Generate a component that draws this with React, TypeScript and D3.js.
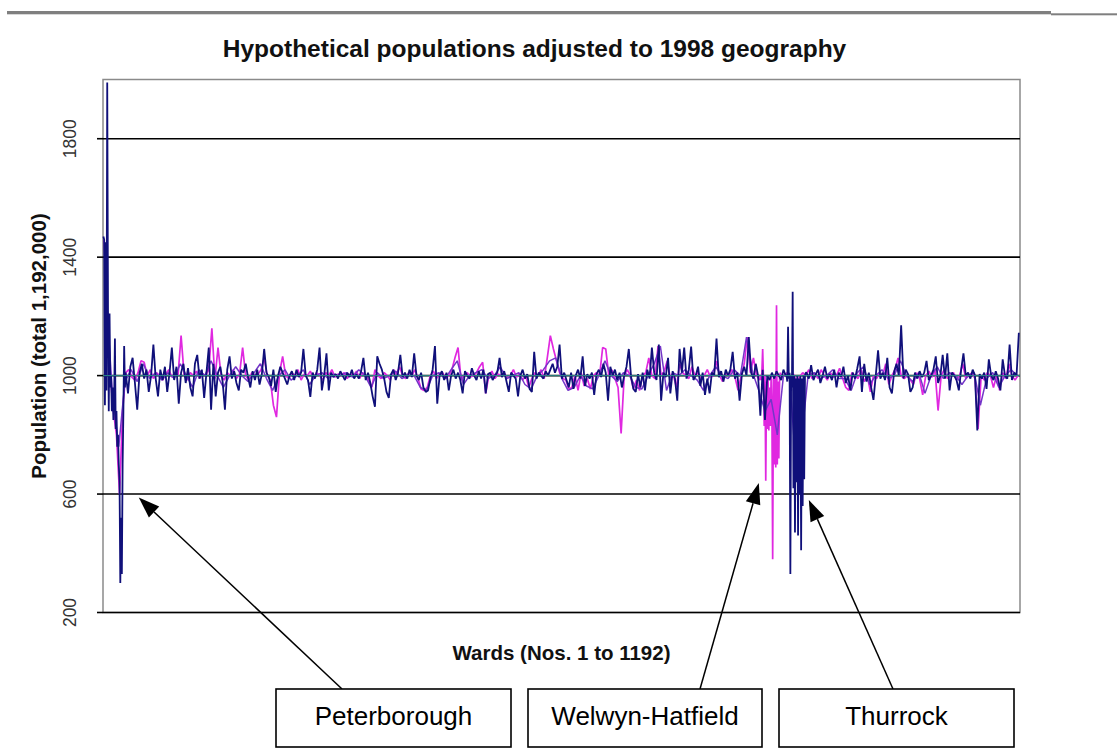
import React from 'react';
import * as d3 from 'd3';

// ---------------- DATA ----------------
const totalWards = 1192;
const yTicks = [200, 600, 1000, 1400, 1800];
const gridValues = [600, 1000, 1400, 1800];
const targetPop = 1000;

const titleText = 'Hypothetical populations adjusted to 1998 geography';
const yTitle = 'Population (total 1,192,000)';
const xTitle = 'Wards (Nos. 1 to 1192)';

// navy series: wards 1..30 (every ward)
const navyPeterborough = [1470, 1460, 900, 1450, 950, 1990, 1220, 880, 1210, 960, 1000, 880, 960, 850, 920, 1125, 820, 880, 760, 800, 700, 640, 300, 520, 330, 700, 880, 1100, 960, 1010];
// navy series: wards 33..888, every 3rd ward
const navyWest = [
  940, 1030, 1060, 975, 885, 1010, 1040, 990, 1020, 945,
  1000, 1105, 990, 930, 1020, 985, 1030, 945, 1010, 1095,
  985, 1030, 905, 1010, 1040, 975, 1025, 960, 930, 1040,
  1070, 990, 1020, 925, 1010, 1095, 885, 1040, 930, 1010,
  1030, 980, 885, 1020, 1065, 990, 1015, 975, 950, 1020,
  1010, 1040, 995, 960, 1015, 985, 1020, 970, 1005, 1090,
  1010, 995, 965, 1020, 945, 1000, 1030, 1010, 990, 970,
  1000, 1015, 985, 1020, 995, 1010, 1090, 1000, 985, 928,
  1010, 990, 1020, 1095, 950, 1000, 1075, 950, 1010, 995,
  1005, 990, 1015, 1000, 985, 1010, 995, 1020, 990, 1005,
  990, 1015, 1060, 985, 1010, 975, 930, 895, 1065, 1040,
  1020, 990, 945, 925, 1005, 1020, 985, 1010, 1070, 995,
  1010, 990, 1020, 995, 1075, 1000, 985, 1010, 960, 945,
  950, 990, 1020, 1100, 905, 1000, 1015, 985, 1010, 950,
  1000, 1020, 990, 1010, 985, 940, 1015, 1000, 990, 1025,
  1000, 985, 1015, 990, 1020, 940, 1005, 1010, 985, 1000,
  1010, 1060, 995, 1015, 980, 945, 1010, 1000, 990, 930,
  1000, 1020, 990, 1005, 955, 945, 1080, 990, 1010, 1000,
  990, 1015, 1000, 1020, 1040, 1010, 1030, 1105, 990, 1010,
  985, 960, 1010, 955, 1000, 1020, 990, 1065, 965, 1005,
  990, 1010, 935, 1005, 1020, 995, 1040, 1010, 915, 1030,
  1000, 1020, 985, 1010, 960, 1000, 1030, 1090, 995, 955,
  945, 1005, 960, 1010, 950, 1020, 990, 1095, 1010, 985,
  1105, 915, 1010, 995, 1060, 940, 1015, 990, 915, 1090,
  1010, 1095, 990, 1020, 1098, 985, 1000, 1030, 965, 1010,
  935, 990, 940, 1010, 1000, 1125, 995, 1015, 980, 1020,
  1000, 1020, 1080, 990, 1010, 915, 1005, 1030, 1000, 1130,
  1010, 990, 1040, 1000, 865, 1020, 850, 1000, 985, 1010,
  990, 1015, 1000, 985, 1020, 1000,
];
// navy series: wards 889..914 (every ward)
const navyThurrock = [1000, 980, 1165, 990, 1010, 330, 1000, 960, 1283, 620, 1000, 470, 990, 640, 1000, 460, 990, 600, 1000, 410, 990, 560, 1000, 650, 1000, 1010];
// navy series: wards 915..1191, every 3rd ward
const navyEast = [
  1010, 990, 1035, 985, 1005, 1020, 975, 1000, 1030, 990,
  1005, 985, 1020, 960, 1010, 995, 1030, 975, 1000, 950,
  1010, 990, 1025, 1065, 945, 1040, 980, 1010, 960, 918,
  1000, 1085, 990, 1010, 985, 1060, 960, 940, 1015, 1040,
  1000, 1170, 990, 1020, 1005, 945, 960, 1010, 990, 1015,
  995, 1010, 1050, 985, 1000, 1020, 1065, 975, 1000, 1070,
  990, 1075, 950, 1010, 1000, 985, 950, 1020, 1075, 1000,
  1010, 990, 1020, 1000, 815, 1005, 990, 1010, 955, 1055,
  1000, 985, 1015, 990, 950, 1055, 1000, 990, 1105, 985,
  1010, 1000, 1145,
];

// magenta series: wards 2..854, every 4th ward
const magentaWest = [
  1460, 1220, 1000, 880, 800, 600, 880, 1010, 1020, 995,
  985, 1010, 1050, 1045, 1000, 1020, 990, 1010, 1000, 985,
  1005, 1020, 995, 1010, 1000, 1135, 1000, 985, 1010, 1000,
  1015, 990, 1005, 1000, 1020, 1160, 990, 1095, 1000, 985,
  1010, 1000, 1020, 990, 1005, 1095, 1000, 985, 1010, 1000,
  1005, 1020, 1060, 1000, 985, 900, 860, 1010, 1065, 1000,
  990, 1010, 1000, 1020, 985, 1005, 1000, 1015, 990, 1010,
  1000, 985, 1010, 1000, 1020, 995, 1005, 1000, 1010, 990,
  1005, 1000, 1015, 990, 1010, 1000, 985, 960, 1020, 1000,
  990, 1010, 1000, 985, 1020, 1005, 1030, 1000, 990, 1010,
  1000, 1020, 990, 955, 950, 960, 1000, 1015, 990, 1005,
  1010, 990, 1000, 1020, 1060, 1095, 985, 1000, 1010, 995,
  1000, 1010, 1030, 1045, 940, 1000, 1015, 990, 1005, 1000,
  1010, 990, 1000, 1020, 995, 1005, 985, 1000, 960, 990,
  1010, 1000, 1020, 990, 1060, 1135, 1090, 1050, 1010, 990,
  985, 955, 960, 1000, 950, 1010, 965, 990, 955, 1000,
  1010, 1000, 1095, 1090, 1000, 1020, 990, 960, 805, 1000,
  1020, 1000, 955, 985, 950, 1000, 1010, 1060, 1000, 990,
  1100, 1000, 1015, 1050, 990, 1000, 960, 1040, 1010, 1000,
  990, 1030, 1000, 1010, 985, 1000, 1020, 995, 1000, 1050,
  1000, 980, 1010, 1000, 1020, 995, 950, 1000, 1040, 1130,
  1010, 1060, 1000, 985,
];
// magenta series: wards 855..882 (every ward)
const magentaWelwyn = [1000, 985, 1010, 1090, 990, 830, 1000, 645, 980, 820, 990, 815, 960, 830, 1000, 900, 380, 990, 700, 1000, 690, 1238, 700, 980, 720, 1000, 1010, 995];
// magenta series: wards 886..1190, every 4th ward
const magentaEast = [
  1000, 1010, 990, 1005, 980, 995, 1010, 1000, 1020, 990,
  1005, 990, 1020, 1000, 985, 1010, 995, 1000, 1025, 990,
  960, 950, 1010, 1000, 990, 1020, 980, 1000, 945, 1000,
  990, 1010, 1000, 1040, 970, 1000, 1020, 1060, 1000, 990,
  1000, 985, 970, 1010, 990, 935, 1000, 1015, 995, 1020,
  882, 1000, 1020, 990, 1000, 1010, 985, 1000, 1040, 990,
  1000, 1010, 990, 820, 1000, 985, 1010, 1000, 960, 1000,
  950, 1010, 990, 1040, 1000, 985, 1000,
];

// purple series: wards 5..1189, every 8th ward
const purpleAll = [
  1250, 930, 760, 980, 1020, 980, 1040, 990, 1010, 985,
  1010, 990, 1040, 1000, 960, 1020, 1000, 1050, 1000, 960,
  1000, 1030, 1000, 980, 1010, 1040, 990, 950, 1000, 1020,
  985, 1000, 1020, 970, 1000, 1010, 990, 1005, 1000, 1010,
  995, 1020, 1000, 960, 1010, 990, 1000, 1015, 990, 1000,
  1000, 960, 950, 1000, 1010, 990, 1020, 1050, 970, 1000,
  1010, 1020, 990, 1000, 1030, 990, 1000, 1010, 970, 955,
  1000, 1020, 1050, 1060, 990, 950, 960, 1000, 965, 955,
  1000, 1050, 1000, 980, 1010, 1000, 960, 955, 1000, 1040,
  1100, 950, 1010, 1000, 1020, 1000, 985, 950, 1000, 1030,
  1000, 990, 1020, 1000, 1130, 1010, 950, 880, 920, 800,
  1000, 1000, 700, 800, 1000, 1010, 990, 1000, 1020, 990,
  990, 950, 1010, 1030, 970, 1000, 1020, 990, 1000, 1050,
  1000, 980, 1010, 940, 1000, 1030, 990, 1010, 1000, 970,
  1000, 1010, 900, 990, 1010, 960, 1000, 1020, 1000,
];

// call-outs: label, ward and population the arrow points at
const calloutLabels = ['Peterborough', 'Welwyn-Hatfield', 'Thurrock'];
const calloutWards = [47, 853, 918];
const calloutPops = [588, 637, 580];

// ---------------- HELPERS ----------------
type Pt = { ward: number; pop: number };
const run = (start: number, step: number, values: number[]): Pt[] =>
  values.map((v, i) => ({ ward: start + step * i, pop: v }));

const navySeries: Pt[] = [
  ...run(1, 1, navyPeterborough),
  ...run(33, 3, navyWest),
  ...run(889, 1, navyThurrock),
  ...run(915, 3, navyEast),
];
const magentaSeries: Pt[] = [
  ...run(2, 4, magentaWest),
  ...run(855, 1, magentaWelwyn),
  ...run(886, 4, magentaEast),
];
const purpleSeries: Pt[] = run(5, 8, purpleAll);

const FONT = '"Liberation Sans", Arial, Helvetica, sans-serif';

export default function App() {
  const plotL = 103, plotR = 1020, plotT = 79.5, plotB = 612.5;
  const x = d3.scaleLinear().domain([0.5, totalWards + 0.5]).range([plotL, plotR]);
  const y = d3.scaleLinear().domain([200, 2000]).range([plotB, plotT]);
  const line = d3.line<Pt>().x(d => x(d.ward)).y(d => y(d.pop));

  const boxes = [
    { x0: 276, x1: 511, bx: 342 },
    { x0: 528, x1: 762, bx: 700 },
    { x0: 779, x1: 1014, bx: 893 },
  ];
  const boxTop = 689, boxBottom = 747;

  return (
    <svg width={1117} height={749} style={{ position: 'absolute', left: 0, top: 0, background: '#fff' }}
      fontFamily={FONT}>
      <rect x={0} y={0} width={1117} height={749} fill="#fff" />
      {/* top rule */}
      <rect x={7} y={11} width={1044} height={3.3} fill="#7f7f7f" />
      <rect x={1051} y={13.3} width={66} height={2} fill="#7f7f7f" />

      {/* title */}
      <text x={534.5} y={57} textAnchor="middle" fontWeight="bold" fontSize={24.5} fill="#111">{titleText}</text>

      {/* plot frame */}
      <rect x={plotL} y={plotT} width={plotR - plotL} height={plotB - plotT} fill="none" stroke="#8a8a8a" strokeWidth={1.5} />

      {/* gridlines */}
      {gridValues.map(v => (
        <line key={'g' + v} x1={plotL} x2={plotR} y1={y(v)} y2={y(v)} stroke="#000" strokeWidth={1.6} />
      ))}

      {/* series */}
      <path d={line(magentaSeries) || ''} fill="none" stroke="#e028e0" strokeWidth={1.7} strokeLinejoin="bevel" />
      <path d={line(purpleSeries) || ''} fill="none" stroke="#7436c8" strokeWidth={1.5} strokeLinejoin="bevel" />
      <path d={line(navySeries) || ''} fill="none" stroke="#10107a" strokeWidth={1.8} strokeLinejoin="bevel" />
      <line x1={plotL} x2={plotR} y1={y(targetPop)} y2={y(targetPop)} stroke="#2f8c8c" strokeWidth={1} />

      {/* axis at 200 and tick marks */}
      <line x1={plotL} x2={plotR} y1={y(200)} y2={y(200)} stroke="#000" strokeWidth={1.6} />
      {yTicks.map(v => (
        <line key={'t' + v} x1={plotL - 6} x2={plotL} y1={y(v)} y2={y(v)} stroke="#000" strokeWidth={1.6} />
      ))}
      {yTicks.map(v => (
        <text key={'l' + v} transform={`translate(${76},${y(v)}) rotate(-90)`} textAnchor="middle"
          fontSize={17.5} fill="#333">{v}</text>
      ))}

      {/* axis titles */}
      <text transform={`translate(45.5,${(plotT + plotB) / 2}) rotate(-90)`} textAnchor="middle"
        fontWeight="bold" fontSize={20.5} fill="#111">{yTitle}</text>
      <text x={(plotL + plotR) / 2} y={660} textAnchor="middle" fontWeight="bold" fontSize={20.5} fill="#111">{xTitle}</text>

      {/* call-outs */}
      {calloutLabels.map((lab, i) => {
        const b = boxes[i];
        const tx = x(calloutWards[i]);
        const ty = y(calloutPops[i]);
        const ang = Math.atan2(ty - boxTop, tx - b.bx);
        const len = 21, hw = 7.5;
        const bx = tx - len * Math.cos(ang), by = ty - len * Math.sin(ang);
        const px = -Math.sin(ang), py = Math.cos(ang);
        const head = `M${tx},${ty} L${bx + hw * px},${by + hw * py} L${bx - hw * px},${by - hw * py} Z`;
        return (
          <g key={lab}>
            <line x1={b.bx} y1={boxTop} x2={bx} y2={by} stroke="#000" strokeWidth={1.5} />
            <path d={head} fill="#000" />
            <rect x={b.x0} y={boxTop} width={b.x1 - b.x0} height={boxBottom - boxTop} fill="#fff" stroke="#000" strokeWidth={1.6} />
            <text x={(b.x0 + b.x1) / 2} y={725} textAnchor="middle" fontSize={26} fill="#000">{lab}</text>
          </g>
        );
      })}
    </svg>
  );
}
